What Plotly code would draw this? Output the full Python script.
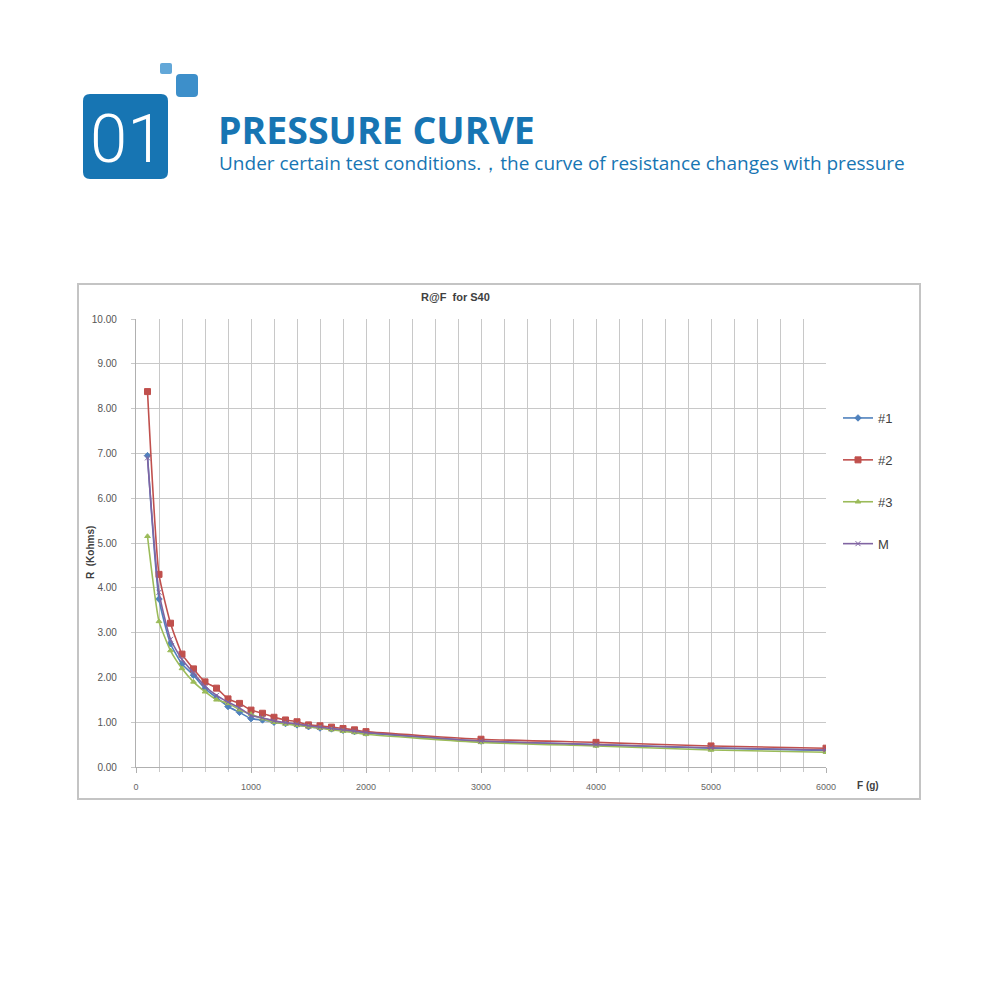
import plotly.graph_objects as go

F = [100, 200, 300, 400, 500, 600, 700, 800, 900, 1000, 1100, 1200, 1300, 1400,
     1500, 1600, 1700, 1800, 1900, 2000, 3000, 4000, 5000, 6000]
R1 = [6.95, 3.75, 2.75, 2.30, 2.05, 1.75, 1.55, 1.35, 1.22, 1.08, 1.05, 1.00, 0.97, 0.94,
      0.90, 0.87, 0.85, 0.82, 0.79, 0.76, 0.58, 0.50, 0.42, 0.37]
R2 = [8.38, 4.30, 3.21, 2.52, 2.19, 1.90, 1.76, 1.52, 1.42, 1.27, 1.20, 1.11, 1.05, 1.01,
      0.94, 0.92, 0.89, 0.86, 0.83, 0.79, 0.62, 0.55, 0.47, 0.42]
R3 = [5.15, 3.25, 2.60, 2.20, 1.90, 1.68, 1.50, 1.42, 1.28, 1.18, 1.08, 1.00, 0.96, 0.93,
      0.90, 0.87, 0.83, 0.80, 0.77, 0.73, 0.55, 0.47, 0.38, 0.33]
RM = [6.90, 3.90, 2.85, 2.40, 2.10, 1.80, 1.60, 1.45, 1.32, 1.15, 1.10, 1.03, 0.99, 0.96,
      0.92, 0.89, 0.86, 0.83, 0.80, 0.77, 0.58, 0.50, 0.43, 0.38]
names = ["#1", "#2", "#3", "M"]
colors = ["#4F81BD", "#C0504D", "#9BBB59", "#8064A2"]
symbols = ["diamond", "square", "triangle-up", "x-thin-open"]
sizes = [5, 6, 5, 5]

W = H = 981
L, RGT, T, B = 136, 826, 319, 767


def px(x):
    return (x - L) / (RGT - L)


def py(y):
    return (B - y) / (B - T)


fig = go.Figure()
for i, (nm, ys) in enumerate(zip(names, [R1, R2, R3, RM])):
    fig.add_trace(go.Scatter(
        x=F, y=ys, name=nm, mode="lines+markers", legendgroup=nm,
        line=dict(color=colors[i], width=1.6, shape="spline", smoothing=0.5),
        marker=dict(symbol=symbols[i], size=sizes[i], color=colors[i],
                    line=dict(color=colors[i], width=1)),
    ))

fig.update_layout(
    width=W, height=H,
    margin=dict(l=L, r=W - RGT, t=T, b=H - B, pad=0),
    paper_bgcolor="white", plot_bgcolor="white",
    showlegend=True,
    legend=dict(x=px(838), y=py(403), xanchor="left", yanchor="top",
                font=dict(family="Liberation Sans", size=13, color="#404040"),
                tracegroupgap=22, itemwidth=30, bgcolor="rgba(0,0,0,0)",
                traceorder="grouped"),
    font=dict(family="Liberation Sans"),
)
fig.update_xaxes(
    range=[0, 6000], dtick=1000, tick0=0, showgrid=True, gridcolor="#c8c8c8", gridwidth=1.3,
    minor=dict(dtick=200, showgrid=True, gridcolor="#c8c8c8", gridwidth=1.3,
               ticks="outside", ticklen=4, tickcolor="#c8c8c8"),
    ticks="outside", ticklen=5, tickcolor="#b0b0b0",
    showline=True, linecolor="#b0b0b0", linewidth=1.3, zeroline=False,
    tickfont=dict(family="Liberation Sans", size=9, color="#666666"),
    ticklabelstandoff=6,
)
fig.update_yaxes(
    range=[0, 10], dtick=1, tick0=0, tickformat=".2f", showgrid=True,
    gridcolor="#c8c8c8", gridwidth=1.3,
    showline=True, linecolor="#b0b0b0", linewidth=1.3, zeroline=False,
    ticks="outside", ticklen=4, tickcolor="#c8c8c8",
    tickfont=dict(family="Liberation Sans", size=10, color="#555555"),
    ticklabelstandoff=12,
)

shapes = []
# chart frame
shapes.append(dict(type="rect", xref="paper", yref="paper",
                   x0=px(78), x1=px(920), y0=py(799), y1=py(284),
                   line=dict(color="#c4c4c4", width=2), layer="below"))


def rrect(x0, y0, x1, y1, r, color):
    X0, X1 = px(x0), px(x1)
    Y0, Y1 = py(y1), py(y0)  # bottom, top in paper
    rx = r / (RGT - L)
    ry = r / (B - T)
    p = (f"M {X0+rx},{Y1} L {X1-rx},{Y1} Q {X1},{Y1} {X1},{Y1-ry} "
         f"L {X1},{Y0+ry} Q {X1},{Y0} {X1-rx},{Y0} L {X0+rx},{Y0} "
         f"Q {X0},{Y0} {X0},{Y0+ry} L {X0},{Y1-ry} Q {X0},{Y1} {X0+rx},{Y1} Z")
    return dict(type="path", xref="paper", yref="paper", path=p,
                fillcolor=color, line=dict(width=0))


shapes.append(rrect(83, 94, 168, 179, 7, "#1775b3"))
shapes.append(rrect(176, 74, 198, 97, 4, "#3d8fca"))
shapes.append(rrect(160, 63, 172, 74, 2, "#62a7d8"))
fig.update_layout(shapes=shapes)

ann = [
    dict(text="01", x=px(127), y=py(139),
         font=dict(family="Roboto", size=67, weight=300, color="white")),
    dict(text="<b>PRESSURE CURVE</b>", x=px(216), y=py(129.5), xanchor="left",
         font=dict(family="Open Sans", size=37.5, color="#1775b3")),
    dict(text="Under certain test conditions.，the curve of resistance changes with pressure",
         x=px(217), y=py(163), xanchor="left",
         font=dict(family="Open Sans", size=19, color="#1775b3")),
    dict(text="<b>R@F  for S40</b>", x=px(455), y=py(297),
         font=dict(family="Liberation Sans", size=11, color="#404040")),
    dict(text="<b>R  (Kohms)</b>", x=px(90), y=py(553), textangle=-90,
         font=dict(family="Liberation Sans", size=10, color="#404040")),
    dict(text="<b>F (g)</b>", x=px(868), y=py(785),
         font=dict(family="Liberation Sans", size=10, color="#404040")),
]
for a in ann:
    a.update(xref="paper", yref="paper", showarrow=False)
    a.setdefault("xanchor", "center")
    a.setdefault("yanchor", "middle")
fig.update_layout(annotations=ann)

fig.write_html("out.html")
